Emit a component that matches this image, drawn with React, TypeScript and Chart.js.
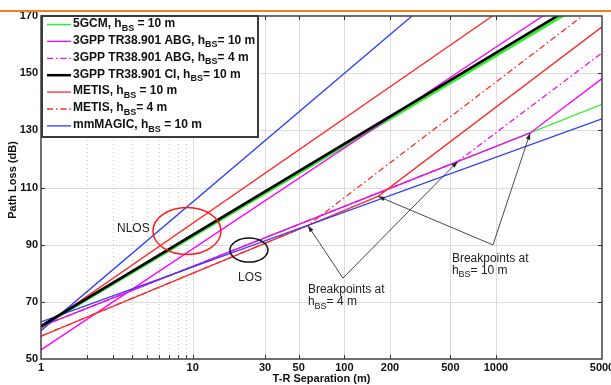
import React, { useEffect, useRef } from "react";
import { Chart, registerables } from "chart.js";
Chart.register(...registerables);

// ---- axes ----
const xMin = 1;
const xMax = 5000;
const yMin = 50;
const yMax = 170;
const yTickValues = [50, 70, 90, 110, 130, 150, 170];
const yGridValues = [70, 90, 110, 130, 150];
const xLabelValues = [1, 10, 30, 50, 100, 200, 500, 1000, 5000];
const xMinorValues = [2, 3, 4, 5, 6, 7, 8, 9];
const xGridValues = [10, 30, 50, 100, 200, 500, 1000];

// ---- series (T-R distance in m, path loss in dB) ----
const gcmLosD = [1, 5000];
const gcmLosPL = [61.4, 139.1];
const gcmNlosD = [1, 5000];
const gcmNlosPL = [61.2, 178.2];
const abgLos10D = [1, 1680, 5000];
const abgLos10PL = [61.4, 129.1, 148.1];
const abgNlosD = [1, 5000];
const abgNlosPL = [53.2, 183.8];
const abgLos4D = [1, 560, 5000];
const abgLos4PL = [61.4, 119.1, 157.1];
const ciNlosD = [1, 5000];
const ciNlosPL = [61.5, 179.4];
const metisLos10D = [1, 167, 5000];
const metisLos10PL = [58.0, 106.9, 166.2];
const metisNlosD = [1, 5000];
const metisNlosPL = [60.8, 196.5];
const metisLos4D = [1, 57.5, 5000];
const metisLos4PL = [58.0, 96.7, 175.2];
const magicLosD = [1, 5000];
const magicLosPL = [63.0, 134.0];
const magicNlosD = [1, 5000];
const magicNlosPL = [59.9, 226.4];

// ---- legend ----
const legendLabels = [
  ["5GCM, h", "BS", " = 10 m"],
  ["3GPP TR38.901 ABG, h", "BS", "= 10 m"],
  ["3GPP TR38.901 ABG, h", "BS", "= 4 m"],
  ["3GPP TR38.901 CI, h", "BS", "= 10 m"],
  ["METIS, h", "BS", " = 10 m"],
  ["METIS, h", "BS", "= 4 m"],
  ["mmMAGIC, h", "BS", " = 10 m"],
];

// ---- annotations (data coordinates) ----
const bp4Apex = [97.9, 78.3];
const bp4Tips = [[57.5, 96.7], [560, 119.1]];
const bp10Apex = [955, 89.9];
const bp10Tips = [[167, 106.9], [1680, 129.1]];
const nlosEllipseCenter = [9.17, 94.8];
const losEllipseCenter = [23.5, 88.1];
const nlosTextPos = [3.17, 95.5];
const losTextPos = [23.9, 78.3];
const bp4TextPos = [57.5, 74.3];
const bp10TextPos = [512, 85.2];

const GREEN = "#2ef02e";
const MAGENTA = "#ff00ff";
const RED = "#ff2a2a";
const BLUE = "#2a3cff";
const BLACK = "#000000";

const pts = (d: number[], p: number[]) => d.map((x, i) => ({ x, y: p[i] }));

const DASHDOT = [6, 3, 1.5, 3];

const legendStyles = [
  { color: GREEN, width: 1.5, dash: [] as number[] },
  { color: MAGENTA, width: 1.3, dash: [] as number[] },
  { color: MAGENTA, width: 1.3, dash: DASHDOT },
  { color: BLACK, width: 2.5, dash: [] as number[] },
  { color: RED, width: 1.3, dash: [] as number[] },
  { color: RED, width: 1.3, dash: DASHDOT },
  { color: BLUE, width: 1.3, dash: [] as number[] },
];

const FONT = "'Liberation Sans', Arial, Helvetica, sans-serif";

function drawSubText(ctx: CanvasRenderingContext2D, x: number, y: number, parts: string[], size: number, bold: boolean) {
  const w = bold ? "bold " : "";
  const main = `${w}${size}px ${FONT}`;
  const sub = `${w}${Math.round(size * 0.78)}px ${FONT}`;
  ctx.textBaseline = "middle";
  ctx.textAlign = "left";
  let cx = x;
  ctx.font = main;
  ctx.fillText(parts[0], cx, y);
  cx += ctx.measureText(parts[0]).width;
  ctx.font = sub;
  ctx.fillText(parts[1], cx, y + size * 0.38);
  cx += ctx.measureText(parts[1]).width;
  ctx.font = main;
  ctx.fillText(parts[2], cx, y);
}

function arrow(ctx: CanvasRenderingContext2D, x0: number, y0: number, x1: number, y1: number) {
  ctx.beginPath();
  ctx.moveTo(x0, y0);
  ctx.lineTo(x1, y1);
  ctx.stroke();
  const a = Math.atan2(y1 - y0, x1 - x0);
  const L = 7;
  const s = 0.32;
  ctx.beginPath();
  ctx.moveTo(x1, y1);
  ctx.lineTo(x1 - L * Math.cos(a - s), y1 - L * Math.sin(a - s));
  ctx.lineTo(x1 - L * Math.cos(a + s), y1 - L * Math.sin(a + s));
  ctx.closePath();
  ctx.fill();
}

const decorPlugin = {
  id: "decor",
  beforeDatasetsDraw(chart: any) {
    const { ctx, chartArea: a, scales } = chart;
    const xs = scales.x;
    const ys = scales.y;
    ctx.save();
    ctx.strokeStyle = "#dcdcdc";
    ctx.lineWidth = 1;
    for (const v of yGridValues) {
      const y = Math.round(ys.getPixelForValue(v)) + 0.5;
      ctx.beginPath();
      ctx.moveTo(a.left, y);
      ctx.lineTo(a.right, y);
      ctx.stroke();
    }
    for (const v of xGridValues) {
      const x = Math.round(xs.getPixelForValue(v)) + 0.5;
      ctx.beginPath();
      ctx.moveTo(x, a.top);
      ctx.lineTo(x, a.bottom);
      ctx.stroke();
    }
    ctx.setLineDash([1, 3]);
    ctx.strokeStyle = "#c8c8c8";
    for (const v of xMinorValues) {
      const x = Math.round(xs.getPixelForValue(v)) + 0.5;
      ctx.beginPath();
      ctx.moveTo(x, a.top);
      ctx.lineTo(x, a.bottom);
      ctx.stroke();
    }
    ctx.restore();
  },
  afterDatasetsDraw(chart: any) {
    const { ctx, chartArea: a, scales } = chart;
    const xs = scales.x;
    const ys = scales.y;
    const px = (v: number) => xs.getPixelForValue(v);
    const py = (v: number) => ys.getPixelForValue(v);
    ctx.save();

    // ellipses
    ctx.lineWidth = 1.5;
    ctx.strokeStyle = "#ff1a1a";
    ctx.beginPath();
    ctx.ellipse(px(nlosEllipseCenter[0]), py(nlosEllipseCenter[1]), 34, 23.5, 0, 0, Math.PI * 2);
    ctx.stroke();
    ctx.strokeStyle = "#111";
    ctx.beginPath();
    ctx.ellipse(px(losEllipseCenter[0]), py(losEllipseCenter[1]), 19, 12, 0, 0, Math.PI * 2);
    ctx.stroke();

    // arrows
    ctx.strokeStyle = "#333";
    ctx.fillStyle = "#222";
    ctx.lineWidth = 0.9;
    for (const t of bp4Tips) arrow(ctx, px(bp4Apex[0]), py(bp4Apex[1]), px(t[0]), py(t[1]));
    for (const t of bp10Tips) arrow(ctx, px(bp10Apex[0]), py(bp10Apex[1]), px(t[0]), py(t[1]));

    // annotation text
    ctx.fillStyle = "#222";
    ctx.font = `12px ${FONT}`;
    ctx.textBaseline = "middle";
    ctx.textAlign = "left";
    ctx.fillText("NLOS", px(nlosTextPos[0]), py(nlosTextPos[1]));
    ctx.textAlign = "center";
    ctx.fillText("LOS", px(losTextPos[0]), py(losTextPos[1]));
    ctx.textAlign = "left";
    ctx.fillText("Breakpoints at", px(bp4TextPos[0]), py(bp4TextPos[1]));
    drawSubText(ctx, px(bp4TextPos[0]), py(bp4TextPos[1]) + 12, ["h", "BS", "= 4 m"], 12, false);
    ctx.fillText("Breakpoints at", px(bp10TextPos[0]), py(bp10TextPos[1]));
    drawSubText(ctx, px(bp10TextPos[0]), py(bp10TextPos[1]) + 12, ["h", "BS", "= 10 m"], 12, false);

    // tick marks
    ctx.strokeStyle = "#333";
    ctx.lineWidth = 1;
    ctx.setLineDash([]);
    for (const v of [...xMinorValues, ...xGridValues]) {
      const x = Math.round(px(v)) + 0.5;
      ctx.beginPath();
      ctx.moveTo(x, a.bottom);
      ctx.lineTo(x, a.bottom - 4);
      ctx.moveTo(x, a.top);
      ctx.lineTo(x, a.top + 4);
      ctx.stroke();
    }
    for (const v of yGridValues) {
      const y = Math.round(py(v)) + 0.5;
      ctx.beginPath();
      ctx.moveTo(a.left, y);
      ctx.lineTo(a.left + 4, y);
      ctx.moveTo(a.right, y);
      ctx.lineTo(a.right - 4, y);
      ctx.stroke();
    }

    // plot border
    ctx.strokeStyle = "#404040";
    ctx.lineWidth = 1.5;
    ctx.strokeRect(a.left, a.top, a.right - a.left, a.bottom - a.top);

    // legend
    const lx = a.left + 1;
    const ly = a.top;
    const lw = 216;
    const lh = 121;
    ctx.fillStyle = "#fff";
    ctx.fillRect(lx, ly, lw, lh);
    ctx.strokeStyle = "#3a3a3a";
    ctx.lineWidth = 2;
    ctx.strokeRect(lx, ly, lw, lh);
    legendLabels.forEach((lab, i) => {
      const y = ly + 8.5 + i * 16.9;
      const st = legendStyles[i];
      ctx.strokeStyle = st.color;
      ctx.lineWidth = st.width;
      ctx.setLineDash(st.dash);
      ctx.beginPath();
      ctx.moveTo(lx + 5, y);
      ctx.lineTo(lx + 29, y);
      ctx.stroke();
      ctx.setLineDash([]);
      ctx.fillStyle = "#111";
      drawSubText(ctx, lx + 31, y - 1, lab, 12, true);
    });

    // tick labels
    ctx.fillStyle = "#111";
    ctx.font = `bold 11px ${FONT}`;
    ctx.textAlign = "right";
    ctx.textBaseline = "middle";
    for (const v of yTickValues) ctx.fillText(String(v), a.left - 3, py(v));
    ctx.textAlign = "center";
    for (const v of xLabelValues) ctx.fillText(String(v), px(v), a.bottom + 9);

    // axis titles
    ctx.font = `bold 11px ${FONT}`;
    ctx.fillText("T-R Separation (m)", (a.left + a.right) / 2, a.bottom + 20);
    ctx.save();
    ctx.translate(13, 180);
    ctx.rotate(-Math.PI / 2);
    ctx.fillText("Path Loss (dB)", 0, 0);
    ctx.restore();

    // slide accent line
    ctx.fillStyle = "#f07f22";
    ctx.fillRect(0, 10, chart.width, 2);
    ctx.restore();
  },
};

export default function App() {
  const ref = useRef<HTMLCanvasElement | null>(null);
  useEffect(() => {
    if (!ref.current) return;
    const line = (data: any[], color: string, width: number, order: number, dash: number[] = []) => ({
      data,
      borderColor: color,
      borderWidth: width,
      borderDash: dash,
      pointRadius: 0,
      fill: false,
      tension: 0,
      order,
    });
    const chart = new Chart(ref.current, {
      type: "line",
      data: {
        datasets: [
          line(pts(gcmLosD, gcmLosPL), GREEN, 1.4, 20),
          line(pts(gcmNlosD, gcmNlosPL), GREEN, 2.6, 19),
          line(pts(abgLos4D, abgLos4PL), MAGENTA, 1.3, 16, DASHDOT),
          line(pts(abgLos10D, abgLos10PL), MAGENTA, 1.3, 15),
          line(pts(abgNlosD, abgNlosPL), MAGENTA, 1.3, 17),
          line(pts(ciNlosD, ciNlosPL), BLACK, 2.6, 5),
          line(pts(metisLos4D, metisLos4PL), RED, 1.3, 14, DASHDOT),
          line(pts(metisLos10D, metisLos10PL), RED, 1.3, 13),
          line(pts(metisNlosD, metisNlosPL), RED, 1.3, 12),
          line(pts(magicLosD, magicLosPL), BLUE, 1.3, 11),
          line(pts(magicNlosD, magicNlosPL), BLUE, 1.3, 10),
        ],
      },
      options: {
        animation: false,
        responsive: false,
        maintainAspectRatio: false,
        devicePixelRatio: 1,
        layout: { padding: { left: 41, right: 9, top: 16, bottom: 26 } },
        plugins: { legend: { display: false }, tooltip: { enabled: false }, title: { display: false } },
        scales: {
          x: { type: "logarithmic", min: xMin, max: xMax, display: false },
          y: { type: "linear", min: yMin, max: yMax, display: false },
        },
      },
      plugins: [decorPlugin],
    });
    return () => chart.destroy();
  }, []);
  return (
    <div style={{ position: "absolute", left: 0, top: 0, width: 611, height: 385, background: "#fff" }}>
      <canvas ref={ref} width={611} height={385} style={{ width: 611, height: 385, display: "block" }} />
    </div>
  );
}
